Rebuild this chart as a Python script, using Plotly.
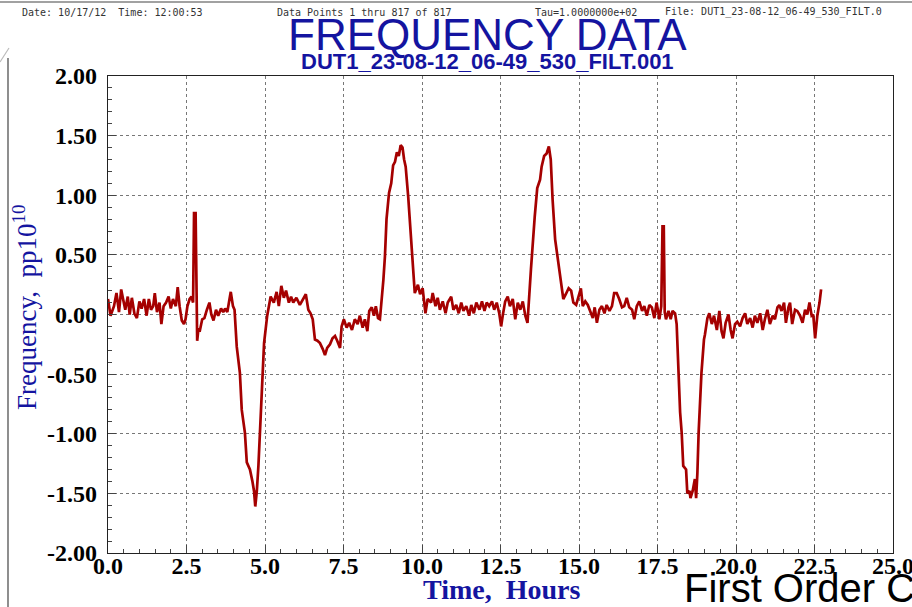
import plotly.graph_objects as go

# ---------------- data ----------------
t_seg1 = [0.00, 0.08, 0.19, 0.27, 0.35, 0.42, 0.48, 0.55, 0.63, 0.69, 0.76, 0.84, 0.92, 1.00, 1.07,
          1.15, 1.23, 1.30, 1.37, 1.44, 1.49, 1.56, 1.64, 1.70, 1.77, 1.85, 1.93, 2.00, 2.07, 2.16,
          2.22, 2.28, 2.35, 2.42, 2.47, 2.53, 2.60, 2.66, 2.71, 2.74, 2.79, 2.81, 2.84, 2.88, 2.93,
          3.00, 3.07, 3.15, 3.23, 3.29, 3.36, 3.44, 3.51, 3.60, 3.67, 3.73, 3.80, 3.87, 3.91, 3.98, 4.03]
f_seg1 = [0.13, -0.01, 0.07, 0.18, 0.02, 0.21, 0.13, 0.04, 0.15, 0.00, 0.14, 0.01, -0.03, 0.11, 0.05,
          0.13, -0.01, 0.13, 0.04, 0.07, 0.18, 0.02, 0.10, -0.08, 0.07, 0.10, 0.15, 0.05, 0.13, 0.07,
          0.23, 0.07, -0.05, -0.08, -0.04, 0.07, 0.13, 0.15, 0.10, 0.85, 0.85, 0.15, -0.22, -0.12, -0.13,
          -0.04, -0.03, 0.04, 0.10, 0.00, -0.05, 0.04, -0.01, 0.05, 0.02, 0.05, 0.02, 0.13, 0.19, 0.07, 0.04]

t_dip1 = [4.10, 4.20, 4.26, 4.36, 4.42, 4.52, 4.60, 4.65, 4.69, 4.74, 4.79, 4.84, 4.89, 4.97, 5.07]
f_dip1 = [-0.27, -0.49, -0.80, -0.99, -1.24, -1.30, -1.40, -1.48, -1.61, -1.48, -1.27, -0.99, -0.66, -0.24, -0.01]

t_seg2 = [5.18, 5.28, 5.37, 5.44, 5.52, 5.60, 5.67, 5.76, 5.83, 5.90, 6.00, 6.11, 6.22, 6.30, 6.38,
          6.45, 6.52, 6.59, 6.67, 6.75, 6.84, 6.91, 6.98, 7.07, 7.15, 7.23, 7.30, 7.39, 7.44, 7.51,
          7.60, 7.68, 7.77, 7.86, 7.95, 8.02, 8.11, 8.18, 8.26, 8.32, 8.40, 8.47, 8.53, 8.60, 8.66,
          8.71, 8.77]
f_seg2 = [0.15, 0.10, 0.19, 0.07, 0.24, 0.14, 0.20, 0.10, 0.15, 0.10, 0.14, 0.08, 0.13, 0.17, 0.04,
          0.01, -0.04, -0.21, -0.22, -0.24, -0.29, -0.34, -0.28, -0.25, -0.20, -0.18, -0.22, -0.28, -0.10, -0.04,
          -0.11, -0.07, -0.13, -0.04, -0.08, -0.01, -0.11, -0.04, -0.14, 0.03, 0.06, -0.01, 0.07, -0.03, -0.04,
          0.10, 0.29]

t_peak1 = [8.82, 8.87, 8.95, 9.02, 9.08, 9.14, 9.20, 9.26, 9.32, 9.38, 9.43, 9.48, 9.56, 9.67, 9.72, 9.77]
f_peak1 = [0.49, 0.80, 1.02, 1.10, 1.25, 1.28, 1.36, 1.33, 1.42, 1.40, 1.30, 1.24, 0.99, 0.60, 0.38, 0.18]

t_seg3 = [9.87, 9.94, 10.02, 10.11, 10.18, 10.29, 10.34, 10.43, 10.50, 10.57, 10.66, 10.75, 10.82, 10.93,
          11.00, 11.09, 11.17, 11.25, 11.32, 11.41, 11.50, 11.57, 11.65, 11.73, 11.83, 11.91, 11.99, 12.06,
          12.14, 12.23, 12.30, 12.38, 12.46, 12.52, 12.57, 12.65, 12.73, 12.80, 12.89, 12.97, 13.05, 13.13,
          13.21, 13.29, 13.36, 13.42, 13.47]
f_seg3 = [0.25, 0.17, 0.22, 0.01, 0.13, 0.10, 0.18, 0.07, 0.14, 0.04, 0.11, 0.01, 0.10, 0.15,
          0.04, 0.08, 0.01, 0.10, 0.03, 0.07, -0.01, 0.08, 0.01, 0.10, 0.04, 0.11, 0.03, 0.10,
          0.07, 0.11, 0.04, 0.10, 0.01, -0.10, -0.01, 0.11, 0.15, 0.07, 0.13, -0.04, 0.10, 0.04,
          0.11, -0.01, -0.07, 0.24, 0.38]

t_peak2 = [13.59, 13.67, 13.76, 13.81, 13.89, 13.97, 14.04, 14.10, 14.16, 14.24, 14.37, 14.43]
f_peak2 = [0.82, 1.06, 1.13, 1.24, 1.33, 1.35, 1.41, 1.30, 0.96, 0.63, 0.38, 0.24]

t_seg4 = [14.50, 14.58, 14.67, 14.75, 14.82, 14.91, 14.99, 15.06, 15.12, 15.20, 15.28, 15.35, 15.44,
          15.50, 15.57, 15.65, 15.73, 15.81, 15.88, 15.97, 16.05, 16.12, 16.20, 16.28, 16.37, 16.44,
          16.52, 16.60, 16.69, 16.76, 16.84, 16.92, 17.01, 17.08, 17.16, 17.24, 17.32, 17.40, 17.47,
          17.56, 17.62, 17.66, 17.70, 17.73, 17.77, 17.85, 17.92, 17.98, 18.06, 18.11]
f_seg4 = [0.13, 0.17, 0.22, 0.20, 0.10, 0.08, 0.15, 0.22, 0.07, 0.11, 0.08, 0.03, -0.03,
          0.06, -0.07, 0.04, 0.07, 0.01, 0.08, 0.03, 0.07, 0.18, 0.18, 0.13, 0.06, 0.07,
          0.14, 0.06, 0.04, -0.04, 0.07, 0.11, 0.03, 0.07, -0.01, 0.08, 0.06, -0.03, 0.10,
          -0.04, 0.07, 0.74, 0.74, 0.02, -0.04, 0.03, -0.04, 0.03, 0.01, -0.08]

t_dip2 = [18.16, 18.22, 18.27, 18.32, 18.41, 18.45, 18.52, 18.55, 18.62, 18.69, 18.73, 18.77, 18.81,
          18.85, 18.90, 18.98]
f_dip2 = [-0.49, -0.82, -0.99, -1.27, -1.30, -1.50, -1.48, -1.54, -1.48, -1.38, -1.54, -1.33, -0.99,
          -0.71, -0.49, -0.21]

t_seg5 = [19.01, 19.09, 19.15, 19.23, 19.30, 19.39, 19.47, 19.54, 19.60, 19.67, 19.76, 19.83, 19.89,
          19.97, 20.04, 20.13, 20.21, 20.29, 20.36, 20.45, 20.53, 20.60, 20.68, 20.77, 20.85, 20.92,
          21.00, 21.08, 21.17, 21.24, 21.32, 21.38, 21.45, 21.53, 21.59, 21.67, 21.72, 21.79, 21.88,
          21.95, 22.04, 22.12, 22.20, 22.27, 22.34, 22.41, 22.46, 22.52, 22.59, 22.66, 22.71]
f_seg5 = [-0.17, -0.03, 0.01, -0.08, -0.01, -0.13, 0.03, -0.14, -0.20, -0.07, 0.00, -0.13, -0.20,
          -0.08, -0.06, -0.10, -0.03, 0.01, -0.08, -0.03, -0.11, -0.01, -0.07, 0.01, -0.13, -0.04,
          0.04, -0.08, -0.01, -0.04, 0.06, 0.08, 0.03, 0.10, -0.07, 0.06, 0.10, -0.08, 0.04,
          0.03, -0.01, -0.07, 0.04, 0.00, 0.10, -0.01, 0.00, -0.20, -0.01, 0.10, 0.21]

time_hours = t_seg1 + t_dip1 + t_seg2 + t_peak1 + t_seg3 + t_peak2 + t_seg4 + t_dip2 + t_seg5
freq_pp1e10 = f_seg1 + f_dip1 + f_seg2 + f_peak1 + f_seg3 + f_peak2 + f_seg4 + f_dip2 + f_seg5

x_ticks = [0.0, 2.5, 5.0, 7.5, 10.0, 12.5, 15.0, 17.5, 20.0, 22.5, 25.0]
y_ticks = [-2.0, -1.5, -1.0, -0.5, 0.0, 0.5, 1.0, 1.5, 2.0]
x_ticktext = ["%.1f" % v for v in x_ticks]
y_ticktext = ["%.2f" % v for v in y_ticks]   # plain hyphen minus, as in the reference

# ---------------- layout geometry ----------------
W, H = 912, 607
L, R, T, B = 108, 19, 76, 54
PW, PH = W - L - R, H - T - B


def px(x):
    return (x - L) / PW


def py(y):
    return (H - B - y) / PH


BLUE = "#1414a0"
serif = "Liberation Serif, Times New Roman, serif"
sans = "Liberation Sans, Arial, sans-serif"
mono = "DejaVu Sans Mono, monospace"

fig = go.Figure()
fig.add_trace(go.Scatter(
    x=time_hours, y=freq_pp1e10, mode="lines",
    line=dict(color="#a50000", width=2.7),
    hoverinfo="skip", showlegend=False,
))

axis_common = dict(
    automargin=False,
    showline=True, linecolor="#222", linewidth=1.2, mirror=True,
    ticks="inside", ticklen=8, tickcolor="#444", tickwidth=1,
    showgrid=True, gridcolor="#777", griddash="dot", gridwidth=1,
    zeroline=False,
    tickfont=dict(family=serif, size=24, color="black", weight="bold"),
)

fig.update_xaxes(
    range=[0, 25], tickvals=x_ticks, ticktext=x_ticktext, ticklabelstandoff=-9,
    ticklabeloverflow="allow",
    minor=dict(dtick=0.5, ticks="inside", ticklen=4, tickcolor="#444", showgrid=False),
    **axis_common,
)
fig.update_yaxes(
    range=[-2, 2], tickvals=y_ticks, ticktext=y_ticktext, ticklabelstandoff=5,
    ticklabeloverflow="allow",
    minor=dict(dtick=0.1, ticks="inside", ticklen=4, tickcolor="#444", showgrid=False),
    **axis_common,
)

small = dict(family=mono, size=10, color="#333")
annotations = [
    dict(text="FREQUENCY DATA", x=px(487), y=py(34), font=dict(family=sans, size=44, color=BLUE)),
    dict(text="DUT1_23-08-12_06-49_530_FILT.001", x=px(487), y=py(61),
         font=dict(family=sans, size=22, color=BLUE, weight="bold")),
    dict(text="Date: 10/17/12  Time: 12:00:53", x=px(20), y=py(12), xanchor="left", font=small),
    dict(text="Data Points 1 thru 817 of 817", x=px(275), y=py(12), xanchor="left", font=small),
    dict(text="Tau=1.0000000e+02", x=px(533), y=py(12), xanchor="left", font=small),
    dict(text="File: DUT1_23-08-12_06-49_530_FILT.0", x=px(663), y=py(12), xanchor="left", font=small),
    dict(text="Frequency,  pp10<sup>10</sup>", x=px(25), y=py(308), textangle=-90,
         font=dict(family=serif, size=27, color=BLUE)),
    dict(text="Time,  Hours", x=px(501), y=py(589),
         font=dict(family=serif, size=28, color=BLUE, weight="bold")),
    dict(text="First Order C", x=px(682), y=py(588), xanchor="left",
         font=dict(family=sans, size=40, color="black")),
]
for a in annotations:
    a.setdefault("xanchor", "center")
    a.update(xref="paper", yref="paper", yanchor="middle", showarrow=False)

shapes = [
    dict(type="line", xref="paper", yref="paper", x0=px(0), x1=px(W), y0=py(2), y1=py(2),
         line=dict(color="#444", width=1.2)),
    dict(type="line", xref="paper", yref="paper", x0=px(8), x1=px(8), y0=py(58), y1=py(H),
         line=dict(color="#444", width=1.2)),
    dict(type="line", xref="paper", yref="paper", x0=px(0), x1=px(9), y0=py(62), y1=py(48),
         line=dict(color="#bbb", width=1.2)),
]

fig.update_layout(
    width=W, height=H,
    margin=dict(l=L, r=R, t=T, b=B, pad=0, autoexpand=False),
    paper_bgcolor="white", plot_bgcolor="white",
    annotations=annotations, shapes=shapes,
    showlegend=False,
)

# remove the browser's default 8px page margin so the figure sits at the window origin
fig.write_html("out.html", config={"displayModeBar": False},
               post_script="document.body.style.margin='0';")
